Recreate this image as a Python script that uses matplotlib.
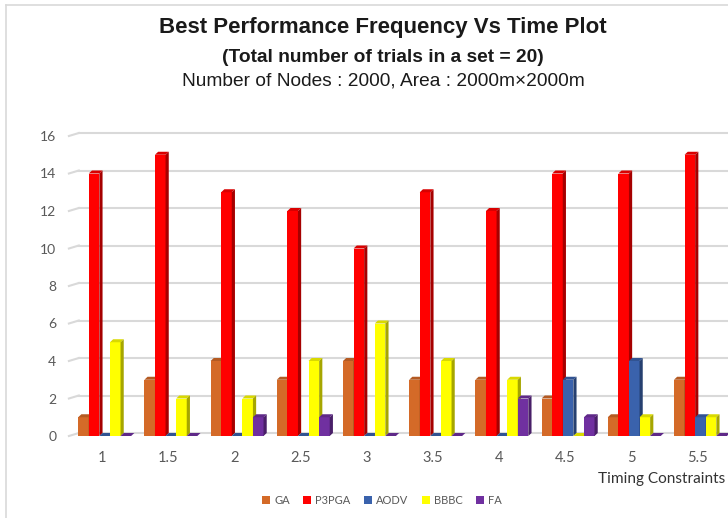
import matplotlib
matplotlib.use("Agg")
import matplotlib.pyplot as plt
from matplotlib.patches import Polygon, Patch
from matplotlib.lines import Line2D
import numpy as np

categories = ["1", "1.5", "2", "2.5", "3", "3.5", "4", "4.5", "5", "5.5"]
series_names = ["GA", "P3PGA", "AODV", "BBBC", "FA"]
ga = [1, 3, 4, 3, 4, 3, 3, 2, 1, 3]
p3pga = [14, 15, 13, 12, 10, 13, 12, 14, 14, 15]
aodv = [0, 0, 0, 0, 0, 0, 0, 3, 4, 1]
bbbc = [5, 2, 2, 4, 6, 4, 3, 0, 1, 1]
fa = [0, 0, 1, 1, 0, 0, 2, 1, 0, 0]
yticks = [0, 2, 4, 6, 8, 10, 12, 14, 16]

series = [ga, p3pga, aodv, bbbc, fa]
colors = ["#D46A28", "#FF0000", "#3A62AC", "#FFFF00", "#7030A0"]

W, H = 728, 518
fig = plt.figure(figsize=(W / 100, H / 100), dpi=100)
fig.patch.set_facecolor("white")

x0px, step = 102, 66.2
left_px = x0px - step / 2
right_px = left_px + step * len(categories)
ax = fig.add_axes([left_px / W, (H - 436) / H, (right_px - left_px) / W, 300 / H])
ax.set_xlim(-0.5, len(categories) - 0.5)
ax.set_ylim(0, 16)
for s in ax.spines.values():
    s.set_visible(False)

# 3D-like depth offsets (styling)
dx = 3.2 / step
dy = 3.0 / 18.75

# gridlines with slanted floor segment
grid_c = "#D9D9D9"
for v in yticks:
    ax.plot([-0.5, -0.5 + 0.15], [v, v + dy], color=grid_c, lw=1.5, zorder=0, clip_on=False)
    ax.plot([-0.5 + 0.15, len(categories) - 0.5], [v + dy, v + dy], color=grid_c, lw=1.5,
            zorder=0, clip_on=False)


def shade(c, f):
    rgb = np.array(matplotlib.colors.to_rgb(c))
    return tuple(rgb * f)


x = np.arange(len(categories))
bw = 0.16
n = len(series)
for i, (vals, col) in enumerate(zip(series, colors)):
    xs = x - n * bw / 2 + i * bw + bw / 2 + 0.04
    bars = ax.bar(xs, vals, width=bw, color=col, zorder=2 + i, linewidth=0)
    for b in bars:
        xl = b.get_x()
        w = b.get_width()
        h = b.get_height()
        top = Polygon([(xl, h), (xl + dx, h + dy), (xl + w + dx, h + dy), (xl + w, h)],
                      closed=True, facecolor=shade(col, 0.85), edgecolor="none", zorder=2 + i)
        side = Polygon([(xl + w, 0), (xl + w + dx, dy), (xl + w + dx, h + dy), (xl + w, h)],
                       closed=True, facecolor=shade(col, 0.65), edgecolor="none", zorder=2 + i)
        ax.add_patch(top)
        ax.add_patch(side)

ax.set_yticks(yticks)
ax.set_yticklabels([str(v) for v in yticks])
ax.set_xticks(x)
ax.set_xticklabels(categories)
ax.tick_params(axis="y", length=0, pad=9, labelsize=10, labelcolor="#595959")
ax.tick_params(axis="x", length=0, pad=11, labelsize=10.5, labelcolor="#595959")
for lab in ax.get_xticklabels() + ax.get_yticklabels():
    lab.set_family(["Lato", "DejaVu Sans"])

# titles
fig.text(383 / W, 1 - 33 / H, "Best Performance Frequency Vs Time Plot", ha="center", va="baseline",
         fontsize=16, fontweight="bold", family=["Liberation Sans", "DejaVu Sans"], color="#1a1a1a")
fig.text(383 / W, 1 - 62 / H, "(Total number of trials in a set = 20)", ha="center", va="baseline",
         fontsize=13.8, fontweight="bold", family=["Liberation Sans", "DejaVu Sans"], color="#1a1a1a")
fig.text(383 / W, 1 - 85 / H, "Number of Nodes : 2000, Area : 2000m\u00d72000m", ha="center",
         va="baseline", fontsize=13.8, family=["Liberation Sans", "DejaVu Sans"], color="#1a1a1a")

fig.text(598 / W, (H - 479) / H, "Timing Constraints", ha="left", va="center", fontsize=11.1,
         family=["Lato", "DejaVu Sans"], color="#333333")

handles = [Patch(facecolor=c, edgecolor="none") for c in colors]
leg = fig.legend(handles, series_names, loc="center", bbox_to_anchor=(382 / W, (H - 500) / H),
                 ncol=5, frameon=False, fontsize=8, handlelength=0.7, handleheight=0.7,
                 handletextpad=0.4, columnspacing=1.2, labelcolor="#595959",
                 prop={"family": ["Lato", "DejaVu Sans"], "size": 8})

# chart frame
fig.add_artist(Line2D([6 / W, 6 / W], [0, 1 - 5 / H], color="#D9D9D9", lw=1.2))
fig.add_artist(Line2D([6 / W, 1], [1 - 5 / H, 1 - 5 / H], color="#D9D9D9", lw=1.2))

fig.savefig("out.png", dpi=100, facecolor="white")
